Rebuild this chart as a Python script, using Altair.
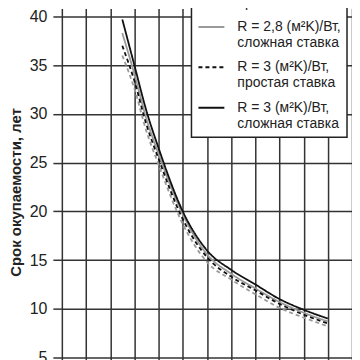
import altair as alt
import pandas as pd

x_vals = [2.5, 3, 3.5, 4, 5, 6, 7, 8, 9, 10, 11]
r28_simple = [36.0, 32.6, 28.2, 24.8, 18.7, 14.8, 13.0, 11.5, 10.1, 9.1, 8.2]
r28_compound = [38.3, 34.1, 29.5, 25.9, 19.7, 15.6, 13.6, 12.1, 10.7, 9.6, 8.7]
r3_simple = [37.0, 33.4, 28.9, 25.4, 19.2, 15.3, 13.3, 11.9, 10.5, 9.4, 8.5]
r3_compound = [39.7, 35.0, 30.3, 26.5, 20.0, 16.0, 14.0, 12.5, 11.0, 9.9, 9.0]

series_names = [
    "R = 2,8 (м²K)/Вт,|простая ставка",
    "R = 2,8 (м²K)/Вт,|сложная ставка",
    "R = 3 (м²K)/Вт,|простая ставка",
    "R = 3 (м²K)/Вт,|сложная ставка",
]
series_values = [r28_simple, r28_compound, r3_simple, r3_compound]
y_ticks = [5, 10, 15, 20, 25, 30, 35, 40]
x_ticks = list(range(0, 13))

rows = []
for name, vals in zip(series_names, series_values):
    for x, y in zip(x_vals, vals):
        rows.append({"x": x, "y": y, "series": name})
df = pd.DataFrame(rows)

colors = ["#9a9a9a", "#9a9a9a", "#111111", "#111111"]
dashes = [[4, 3], [1, 0], [4, 3], [1, 0]]

legend = alt.Legend(
    orient="none", legendX=130, legendY=-42, title=None,
    labelExpr="split(datum.label, '|')",
    labelFont="Liberation Sans", labelFontSize=14, labelColor="#222",
    labelLimit=400, labelOffset=12,
    symbolType="stroke", symbolSize=676, symbolStrokeWidth=2,
    strokeColor="#222", fillColor="white", padding=6, rowPadding=3.5,
)

chart = alt.Chart(df).mark_line(strokeWidth=1.8, interpolate="monotone", clip=True).encode(
    x=alt.X("x:Q", scale=alt.Scale(domain=[0, 12], nice=False, zero=False),
            axis=alt.Axis(values=x_ticks, labels=False, ticks=False, domain=False, title=None,
                          gridColor="#333", gridWidth=1.5)),
    y=alt.Y("y:Q", scale=alt.Scale(domain=[4.795, 40.82], nice=False, zero=False),
            axis=alt.Axis(values=y_ticks, domain=False, tickSize=9, tickColor="#333", tickWidth=1.5,
                          labelFont="Liberation Sans", labelFontSize=16, labelColor="#222",
                          labelPadding=6, gridColor="#333", gridWidth=1.5,
                          title="Срок окупаемости, лет", titleFont="Liberation Sans",
                          titleFontSize=15, titleFontWeight="bold", titleColor="#222",
                          titleAngle=270, titleX=-46, titleY=184, titleBaseline="middle",
                          titleAlign="center")),
    color=alt.Color("series:N", scale=alt.Scale(domain=series_names, range=colors), legend=legend),
    strokeDash=alt.StrokeDash("series:N", scale=alt.Scale(domain=series_names, range=dashes), legend=legend),
).properties(
    width=291, height=352,
    autosize=alt.AutoSizeParams(type="none"),
    padding={"left": 54, "top": 0, "right": 0, "bottom": 0},
).configure_view(stroke=None).configure_legend(strokeWidth=1.5)

chart.save("out.html", embed_options={"renderer": "svg", "actions": False})
